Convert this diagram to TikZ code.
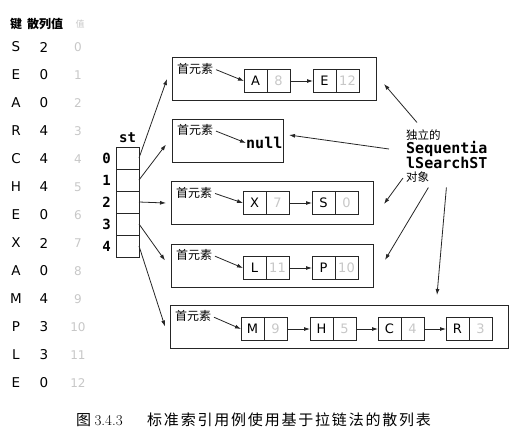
\documentclass[tikz,border=0pt]{standalone}
\usepackage{fontspec}
\usepackage{xcolor}
\usepackage{tikz}
\usetikzlibrary{arrows.meta, positioning}

\newfontfamily\cjk{Noto Sans CJK SC}
\newfontfamily\capcjk[LetterSpace=12]{Noto Sans CJK SC}
\newfontfamily\keyfont{DejaVu Sans}
\newfontfamily\codefont{DejaVu Sans Mono}
\definecolor{ink}{gray}{0.15}
\definecolor{faint}{gray}{0.78}

\begin{document}
\begin{tikzpicture}[x=1pt, y=-1pt,
  keytxt/.style={inner sep=0pt, font=\keyfont\fontsize{13.5}{13.5}\selectfont},
  chain/.style={draw=ink, line width=0.9pt, minimum height=43pt, inner sep=0pt, outer sep=0pt},
  keycell/.style={draw=ink, line width=0.8pt, minimum width=23pt, minimum height=23pt,
    inner sep=0pt, outer sep=0pt, font=\keyfont\fontsize{13}{13}\selectfont},
  valcell/.style={keycell, text=faint},
  stcell/.style={draw=ink, line width=0.8pt, minimum width=23pt, minimum height=22pt,
    inner sep=0pt, outer sep=0pt},
  first/.style={inner sep=0pt, font=\cjk\fontsize{12}{12}\selectfont},
  note/.style={inner sep=0pt, font=\cjk\fontsize{11.5}{11.5}\selectfont},
  code/.style={inner sep=0pt, font=\codefont\bfseries\fontsize{15}{15}\selectfont},
  edge/.style={-{Latex[length=6pt,width=4pt]}, line width=0.8pt, draw=ink}
]
\useasboundingbox (0,0) rectangle (519,445);

% keys and hash values
\node[anchor=west, inner sep=0pt, font=\cjk\bfseries\fontsize{12}{12}\selectfont] (hdr) at (10,24) {键\hspace{5pt}散列值};
\node[inner sep=0pt, text=faint, font=\cjk\fontsize{9}{9}\selectfont] (hdrval) at (80,24) {值};
\foreach \k/\h [count=\i from 0] in {S/2,E/0,A/0,R/4,C/4,H/4,E/0,X/2,A/0,M/4,P/3,L/3,E/0}{
  \node[keytxt] (key\i) at (16,{47+28*\i}) {\k};
  \node[keytxt] (hash\i) at (44,{47+28*\i}) {\h};
  \node[keytxt, text=faint, font=\keyfont\fontsize{12}{12}\selectfont] (val\i) at (78,{47+28*\i}) {\i};
}

% the array st
\node[stcell] (s0) at (127.5,158) {};
\node[stcell, below=0pt of s0] (s1) {};
\node[stcell, below=0pt of s1] (s2) {};
\node[stcell, below=0pt of s2] (s3) {};
\node[stcell, below=0pt of s3] (s4) {};
\node[code, above=4pt of s0, font=\codefont\bfseries\fontsize{14}{14}\selectfont] (stname) {st};
\node[code, left=5pt of s0, font=\codefont\bfseries\fontsize{14}{14}\selectfont] (idx0) {0};
\node[code, left=5pt of s1, font=\codefont\bfseries\fontsize{14}{14}\selectfont] (idx1) {1};
\node[code, left=5pt of s2, font=\codefont\bfseries\fontsize{14}{14}\selectfont] (idx2) {2};
\node[code, left=5pt of s3, font=\codefont\bfseries\fontsize{14}{14}\selectfont] (idx3) {3};
\node[code, left=5pt of s4, font=\codefont\bfseries\fontsize{14}{14}\selectfont] (idx4) {4};

% one SequentialSearchST per slot
\node[chain, minimum width=204pt] (box0) at (274,79) {};
\node[chain, minimum width=111pt] (box1) at (227.5,140.5) {};
\node[chain, minimum width=202pt] (box2) at (272,203) {};
\node[chain, minimum width=202pt] (box3) at (272,265.5) {};
\node[chain, minimum width=338pt] (box4) at (339,326.5) {};

\node[first] (first0) at ([xshift=23pt,yshift=-11pt]box0.north west) {首元素};
\node[first] (first1) at ([xshift=23pt,yshift=-11pt]box1.north west) {首元素};
\node[first] (first2) at ([xshift=23pt,yshift=-11pt]box2.north west) {首元素};
\node[first] (first3) at ([xshift=23pt,yshift=-11pt]box3.north west) {首元素};
\node[first] (first4) at ([xshift=23pt,yshift=-11pt]box4.north west) {首元素};

% slot 0
\node[keycell, anchor=west] (nA) at ([xshift=72pt,yshift=-2pt]box0.west) {A};
\node[valcell, right=0pt of nA] (vA) {8};
\node[keycell, right=23pt of vA] (nE) {E};
\node[valcell, right=0pt of nE] (vE) {12};
% slot 1
\node[code, anchor=west] (null1) at ([xshift=74pt,yshift=-2.5pt]box1.west) {null};
% slot 2
\node[keycell, anchor=west] (nX) at ([xshift=72pt,yshift=0pt]box2.west) {X};
\node[valcell, right=0pt of nX] (vX) {7};
\node[keycell, right=23pt of vX] (nS) {S};
\node[valcell, right=0pt of nS] (vS) {0};
% slot 3
\node[keycell, anchor=west] (nL) at ([xshift=72pt,yshift=-2.5pt]box3.west) {L};
\node[valcell, right=0pt of nL] (vL) {11};
\node[keycell, right=23pt of vL] (nP) {P};
\node[valcell, right=0pt of nP] (vP) {10};
% slot 4
\node[keycell, anchor=west] (nM) at ([xshift=71pt,yshift=-2.5pt]box4.west) {M};
\node[valcell, right=0pt of nM] (vM) {9};
\node[keycell, right=23pt of vM] (nH) {H};
\node[valcell, right=0pt of nH] (vH) {5};
\node[keycell, right=22pt of vH] (nC) {C};
\node[valcell, right=0pt of nC] (vC) {4};
\node[keycell, right=22pt of vC] (nR) {R};
\node[valcell, right=0pt of nR] (vR) {3};

\draw[edge, shorten <=3pt] (first0.east) -- (nA.west);
\draw[edge, shorten <=3pt] (first1.east) -- (null1.west);
\draw[edge, shorten <=3pt] (first2.east) -- (nX.west);
\draw[edge, shorten <=3pt] (first3.east) -- (nL.west);
\draw[edge, shorten <=3pt] (first4.east) -- (nM.west);
\draw[edge] (vA.east) -- (nE.west);
\draw[edge] (vX.east) -- (nS.west);
\draw[edge] (vL.east) -- (nP.west);
\draw[edge] (vM.east) -- (nH.west);
\draw[edge] (vH.east) -- (nC.west);
\draw[edge] (vC.east) -- (nR.west);

% st slots to lists
\draw[edge] (s0.east) -- ([xshift=-5pt]box0.west);
\draw[edge] (s1.east) -- ([xshift=-6pt,yshift=-4pt]box1.west);
\draw[edge] (s2.east) -- ([xshift=-5pt]box2.west);
\draw[edge] (s3.east) -- ([xshift=-6pt,yshift=5pt]box3.west);
\draw[edge] (s4.east) -- ([xshift=-5pt]box4.west);

% annotation
\node[note, anchor=west] (note1) at (406,135) {独立的};
\node[code, anchor=west] (note2) at (406,149) {Sequentia};
\node[code, anchor=west] (note3) at (406,163) {lSearchST};
\node[note, anchor=west] (note4) at (406,177) {对象};

\draw[edge] ([xshift=11pt,yshift=7pt]note1.north west) -- ([xshift=8pt,yshift=-5pt]box0.east);
\draw[edge] ([xshift=-17pt]note2.west) -- ([xshift=6pt,yshift=5.5pt]box1.east);
\draw[edge] ([xshift=-3pt,yshift=-1pt]note4.west) -- ([xshift=11pt,yshift=-1pt]box2.east);
\draw[edge] ([xshift=-1pt,yshift=-5pt]note4.south east) -- ([xshift=12pt,yshift=5.5pt]box3.east);
\draw[edge] ([xshift=17pt,yshift=-5pt]note4.south east) -- ([xshift=98pt,yshift=10pt]box4.north);

% caption
\node[anchor=west, inner sep=0pt, font=\cjk\fontsize{15}{15}\selectfont] (capnum) at (76,420) {图 {\rmfamily 3.4.3}};
\node[anchor=west, inner sep=0pt, font=\capcjk\fontsize{15}{15}\selectfont] (captext) at (147,420) {标准索引用例使用基于拉链法的散列表};
\end{tikzpicture}
\end{document}
